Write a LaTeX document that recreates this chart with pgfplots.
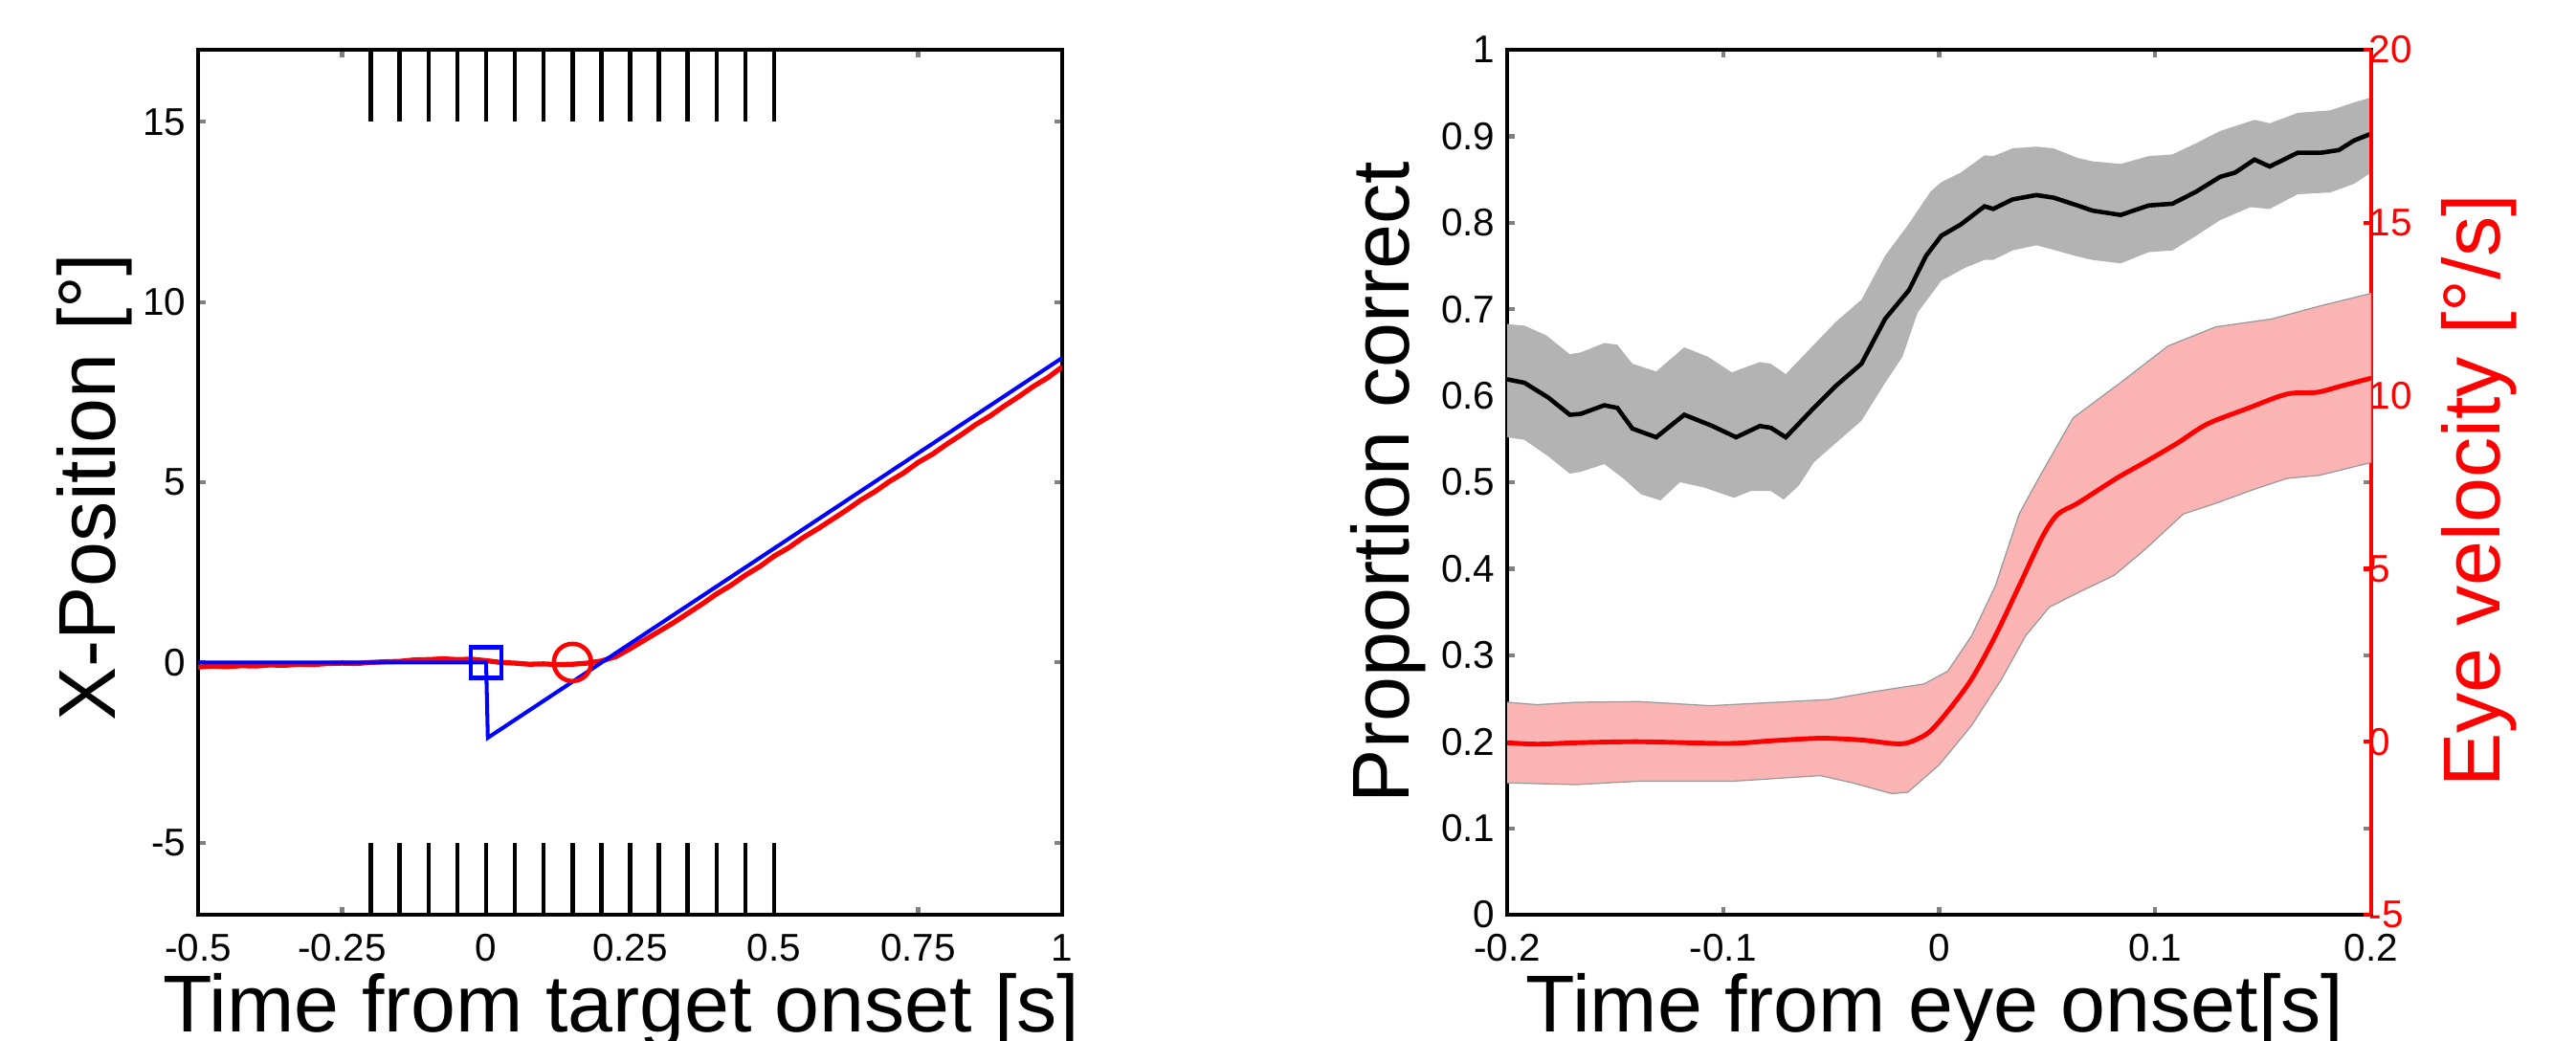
\documentclass[border=0pt]{standalone}
\usepackage{fontspec}
\setmainfont{Liberation Sans}
\usepackage{pgfplots}
\pgfplotsset{compat=1.18}
\definecolor{bandgray}{RGB}{179,179,179}
\definecolor{bandpink}{RGB}{251,180,180}
\definecolor{myred}{RGB}{255,0,0}
\definecolor{myblue}{RGB}{0,0,255}
\pgfplotsset{
  base/.style={scale only axis, width=9.03cm, height=9.04cm,
    axis line style={line width=1.25pt},
    tick style={line width=1.2pt},
    major tick length=0.08cm, tick align=inside,
    /pgf/number format/assume math mode=true,
    tick label style={font=\fontsize{11.5}{12}\selectfont},
    label style={font=\fontsize{24}{26}\selectfont},
    xticklabel style={inner sep=0pt, anchor=north, yshift=-0.2cm},
    yticklabel style={inner sep=0pt, anchor=east, xshift=-0.12cm},
  }
}
\begin{document}
\begin{tikzpicture}
\path[use as bounding box] (-2.07,-1.31) rectangle (24.85,9.56);
% ---------------- left panel
\begin{axis}[base, at={(0,0)},
  xmin=-0.5, xmax=1, ymin=-7, ymax=17,
  xtick={-0.5,-0.25,0,0.25,0.5,0.75,1},
  xticklabels={-0.5,-0.25,0,0.25,0.5,0.75,1},
  ytick={-5,0,5,10,15}, yticklabels={-5,0,5,10,15},
  xlabel={Time from target onset [s]},
  ylabel={X-Position [°]},
  xlabel style={at={(axis description cs:0.49,-0.135)}, anchor=base},
  ylabel style={at={(axis description cs:-0.0963,0.494)}, anchor=base},
]
\addplot[black, line width=1.3pt, unbounded coords=jump] coordinates {
(-0.2,15) (-0.2,17) (-0.2,nan) (-0.15,15) (-0.15,17) (-0.15,nan)
(-0.1,15) (-0.1,17) (-0.1,nan) (-0.05,15) (-0.05,17) (-0.05,nan)
(0,15) (0,17) (0,nan) (0.05,15) (0.05,17) (0.05,nan)
(0.1,15) (0.1,17) (0.1,nan) (0.15,15) (0.15,17) (0.15,nan)
(0.2,15) (0.2,17) (0.2,nan) (0.25,15) (0.25,17) (0.25,nan)
(0.3,15) (0.3,17) (0.3,nan) (0.35,15) (0.35,17) (0.35,nan)
(0.4,15) (0.4,17) (0.4,nan) (0.45,15) (0.45,17) (0.45,nan)
(0.5,15) (0.5,17)};
\addplot[black, line width=1.3pt, unbounded coords=jump] coordinates {
(-0.2,-7) (-0.2,-5) (-0.2,nan) (-0.15,-7) (-0.15,-5) (-0.15,nan)
(-0.1,-7) (-0.1,-5) (-0.1,nan) (-0.05,-7) (-0.05,-5) (-0.05,nan)
(0,-7) (0,-5) (0,nan) (0.05,-7) (0.05,-5) (0.05,nan)
(0.1,-7) (0.1,-5) (0.1,nan) (0.15,-7) (0.15,-5) (0.15,nan)
(0.2,-7) (0.2,-5) (0.2,nan) (0.25,-7) (0.25,-5) (0.25,nan)
(0.3,-7) (0.3,-5) (0.3,nan) (0.35,-7) (0.35,-5) (0.35,nan)
(0.4,-7) (0.4,-5) (0.4,nan) (0.45,-7) (0.45,-5) (0.45,nan)
(0.5,-7) (0.5,-5)};
\addplot[myred, line width=1.5pt] coordinates {
(-0.500,-0.13) (-0.475,-0.10) (-0.450,-0.12) (-0.425,-0.09) (-0.400,-0.10)
(-0.375,-0.07) (-0.350,-0.08) (-0.325,-0.05) (-0.300,-0.06) (-0.275,-0.03)
(-0.250,-0.02) (-0.225,-0.03) (-0.200,0.00) (-0.175,0.02) (-0.150,0.03)
(-0.125,0.07) (-0.100,0.08) (-0.075,0.10) (-0.050,0.08) (-0.025,0.09)
(0.000,0.05) (0.025,0.00) (0.050,-0.02) (0.075,-0.05) (0.100,-0.04)
(0.125,-0.06) (0.150,-0.05) (0.175,-0.02) (0.200,0.04) (0.225,0.16)
(0.250,0.38) (0.275,0.62) (0.300,0.86) (0.325,1.10) (0.350,1.36)
(0.375,1.62) (0.400,1.90) (0.425,2.14) (0.450,2.42) (0.475,2.66)
(0.500,2.95) (0.525,3.18) (0.550,3.46) (0.575,3.70) (0.600,3.96)
(0.625,4.22) (0.650,4.50) (0.675,4.74) (0.700,5.02) (0.725,5.26)
(0.750,5.55) (0.775,5.78) (0.800,6.06) (0.825,6.32) (0.850,6.60)
(0.875,6.84) (0.900,7.12) (0.925,7.38) (0.950,7.66) (0.975,7.90)
(1.000,8.20)};
\addplot[myred, only marks, mark=o, mark size=0.195cm, mark options={line width=1.3pt}] coordinates {(0.15,0)};
\addplot[myblue, line width=1.15pt] coordinates {(-0.5,0) (0,0) (0.003,-2.09) (1,8.45)};
\addplot[myblue, only marks, mark=square, mark size=0.16cm, mark options={line width=1.3pt}] coordinates {(0,0)};
\end{axis}
% ---------------- right panel, left y axis
\begin{axis}[base, at={(13.68cm,0)},
  xmin=-0.2, xmax=0.2, ymin=0, ymax=1,
  xtick={-0.2,-0.1,0,0.1,0.2}, xticklabels={-0.2,-0.1,0,0.1,0.2},
  ytick={0,0.1,0.2,0.3,0.4,0.5,0.6,0.7,0.8,0.9,1},
  yticklabels={0,0.1,0.2,0.3,0.4,0.5,0.6,0.7,0.8,0.9,1},
  xlabel={Time from eye onset[s]},
  ylabel={Proportion correct},
  xlabel style={at={(axis description cs:0.495,-0.135)}, anchor=base},
  ylabel style={at={(axis description cs:-0.113,0.5)}, anchor=base},
]
\addplot[fill=bandgray, draw=none] coordinates {
(-0.2,0.683) (-0.192,0.681) (-0.182,0.670) (-0.171,0.648) (-0.166,0.650) (-0.155,0.661)
(-0.149,0.659) (-0.142,0.637) (-0.131,0.628) (-0.118,0.656) (-0.107,0.645) (-0.096,0.627)
(-0.083,0.639) (-0.078,0.637) (-0.071,0.625) (-0.058,0.659) (-0.048,0.685) (-0.036,0.711)
(-0.025,0.762) (-0.014,0.799) (-0.004,0.836) (0.001,0.847) (0.010,0.858) (0.021,0.878)
(0.025,0.877) (0.034,0.886) (0.045,0.888) (0.053,0.886) (0.064,0.875) (0.071,0.871)
(0.084,0.868) (0.097,0.877) (0.108,0.879) (0.119,0.892) (0.130,0.906) (0.146,0.919)
(0.153,0.915) (0.166,0.927) (0.181,0.930) (0.192,0.939) (0.2,0.945)
(0.2,0.858) (0.192,0.845) (0.181,0.835) (0.166,0.833) (0.153,0.816) (0.144,0.818)
(0.130,0.803) (0.119,0.785) (0.108,0.768) (0.097,0.766) (0.084,0.753) (0.071,0.757)
(0.064,0.761) (0.054,0.768) (0.045,0.774) (0.034,0.768) (0.025,0.757) (0.021,0.757)
(0.012,0.748) (0.001,0.733) (-0.010,0.696) (-0.017,0.645) (-0.025,0.615) (-0.036,0.571)
(-0.048,0.545) (-0.058,0.523) (-0.065,0.496) (-0.072,0.480) (-0.078,0.490) (-0.087,0.490)
(-0.095,0.482) (-0.109,0.494) (-0.120,0.500) (-0.129,0.479) (-0.138,0.486) (-0.146,0.504)
(-0.155,0.521) (-0.166,0.512) (-0.171,0.510) (-0.181,0.530) (-0.192,0.549) (-0.2,0.552)};
\addplot[black, line width=1.3pt] coordinates {
(-0.2,0.619) (-0.192,0.615) (-0.181,0.598) (-0.171,0.578) (-0.166,0.579) (-0.155,0.589)
(-0.149,0.586) (-0.142,0.562) (-0.131,0.552) (-0.118,0.578) (-0.105,0.565) (-0.094,0.552)
(-0.083,0.565) (-0.078,0.563) (-0.071,0.552) (-0.058,0.586) (-0.048,0.611) (-0.036,0.637)
(-0.025,0.689) (-0.014,0.722) (-0.006,0.762) (0.001,0.785) (0.010,0.798) (0.021,0.819)
(0.025,0.816) (0.034,0.827) (0.045,0.832) (0.053,0.829) (0.064,0.820) (0.071,0.814)
(0.084,0.809) (0.097,0.820) (0.108,0.822) (0.119,0.836) (0.130,0.853) (0.137,0.858)
(0.146,0.873) (0.153,0.865) (0.166,0.881) (0.177,0.881) (0.185,0.884) (0.192,0.895)
(0.2,0.903)};
\end{axis}
% ---------------- right panel, right y axis
\begin{axis}[base, at={(13.68cm,0)},
  xmin=-0.2, xmax=0.2, ymin=-5, ymax=20,
  axis x line=none, axis y line*=right,
  y axis line style={myred},
  ytick style={myred},
  ytick={-5,0,5,10,15,20}, yticklabels={-5,0,5,10,15,20},
  yticklabel style={myred, anchor=west, xshift=0.09cm},
  ylabel={Eye velocity [°/s]},
  ylabel style={myred, at={(axis description cs:1.149,0.49)}, anchor=base},
]
\addplot[fill=bandpink, draw=gray!80, line width=0.35pt] coordinates {
(-0.2,1.14) (-0.186,1.07) (-0.168,1.14) (-0.139,1.16) (-0.106,1.04) (-0.051,1.22)
(-0.029,1.46) (-0.007,1.67) (0.004,2.04) (0.015,3.06) (0.026,4.50) (0.037,6.58)
(0.046,7.61) (0.062,9.36) (0.084,10.38) (0.106,11.44) (0.128,11.99) (0.154,12.22)
(0.176,12.59) (0.2,12.96)
(0.2,8.07) (0.176,7.70) (0.161,7.61) (0.146,7.30) (0.128,6.89) (0.113,6.58)
(0.095,5.54) (0.081,4.81) (0.064,4.30) (0.051,3.89) (0.040,3.06) (0.029,1.82)
(0.015,0.47) (0.0,-0.67) (-0.0145,-1.46) (-0.022,-1.50) (-0.040,-1.19) (-0.055,-0.98)
(-0.095,-1.14) (-0.139,-1.14) (-0.168,-1.24) (-0.2,-1.19)};
\addplot[myred, line width=1.4pt, smooth] coordinates {
(-0.2,-0.03) (-0.186,-0.07) (-0.168,-0.03) (-0.139,0.0) (-0.098,-0.05) (-0.077,0.03)
(-0.055,0.10) (-0.036,0.05) (-0.022,-0.05) (-0.0145,-0.03) (-0.005,0.26) (0.004,0.88)
(0.015,1.81) (0.026,3.06) (0.037,4.50) (0.048,5.95) (0.055,6.58) (0.064,6.89)
(0.082,7.61) (0.095,8.07) (0.110,8.62) (0.124,9.18) (0.143,9.64) (0.161,10.05)
(0.175,10.10) (0.186,10.28) (0.2,10.51)};
\end{axis}
\end{tikzpicture}
\end{document}
